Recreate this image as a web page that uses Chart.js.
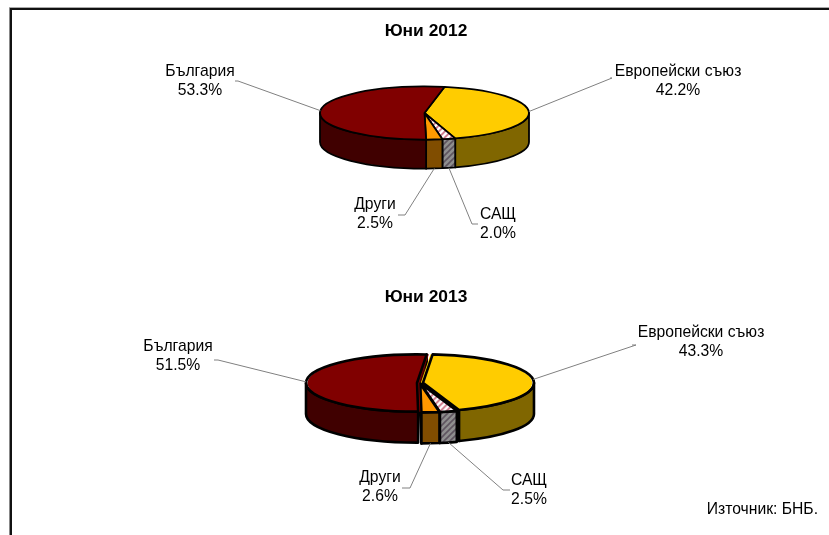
<!DOCTYPE html>
<html><head><meta charset="utf-8">
<script src="https://cdn.jsdelivr.net/npm/chart.js@4/dist/chart.umd.min.js"></script>
<style>
html,body{margin:0;padding:0;background:#fff;width:829px;height:535px;overflow:hidden}
canvas{position:absolute;left:0}
#frameTop{position:absolute;left:9px;top:8px;width:820px;height:2px;background:#111;box-shadow:0 -1px 0 #aaa}
#frameLeft{position:absolute;left:10px;top:8px;width:2px;height:527px;background:#111;box-shadow:-1px 0 0 #888}
</style></head><body>
<canvas id="c1" width="829" height="267" style="top:0"></canvas>
<canvas id="c2" width="829" height="268" style="top:267px"></canvas>
<div id="frameTop"></div><div id="frameLeft"></div>
<script>
const categories = ['Европейски съюз','САЩ','Други','България'];
const titles = ['Юни 2012','Юни 2013'];
const values2012 = [42.2,2.0,2.5,53.3];
const values2013 = [43.3,2.5,2.6,51.5];
const sourceNote = 'Източник: БНБ.';

const layout2012 = {top:0,height:267,cx:424.5,cy:113,r:104.5,k:0.254,depth:29,offset:0,rotation:11,line:1.8,
  titleAt:[426,31],
  labelAt:[[678,71],[498,214],[375,204],[200,71]],
  elbow:[[[612,78],[610,78]],[[472,224],[478,224]],[[405,215],[398,215]],[[238,81],[235,81]]]};
const layout2013 = {top:267,height:268,cx:420,cy:383,r:111,k:0.258,depth:31,offset:3,rotation:5,line:2.6,
  titleAt:[426,297],
  labelAt:[[701,332],[529,480],[380,477],[178,346]],
  elbow:[[[636,345],[632,345]],[[503,490],[510,490]],[[410,488],[402,488]],[[218,360],[214,360]]]};

const topColors = ['#FFCC00',null,'#FF9900','#800000'];
const sideColors = ['#806600',null,'#804D00','#400000'];

function hatch(bg,fg,k){
  const t=document.createElement('canvas');t.width=t.height=6;
  const c=t.getContext('2d');c.fillStyle=bg;c.fillRect(0,0,6,6);
  c.strokeStyle=fg;c.lineWidth=1.6;
  c.beginPath();c.moveTo(-1,7);c.lineTo(7,-1);c.moveTo(-4,4);c.lineTo(4,-4);c.moveTo(2,10);c.lineTo(10,2);c.stroke();
  const p=c.createPattern(t,'repeat');
  if(k&&p.setTransform)p.setTransform(new DOMMatrix().scale(1,1/k));
  return p;
}

const pie3d={
  id:'pie3d',
  beforeDatasetsDraw(chart,args,o){
    const ctx=chart.ctx,L=o.layout,arcs=chart.getDatasetMeta(0).data;
    const geo=arcs.map(a=>{
      const p=a.getProps(['x','y','startAngle','endAngle','outerRadius'],true);
      const mid=(p.startAngle+p.endAngle)/2;
      return {s:p.startAngle,e:p.endAngle,mid,r:p.outerRadius,
        x:p.x+Math.cos(mid)*L.offset,y:p.y+Math.sin(mid)*L.offset*L.k};
    });
    ctx.save();ctx.lineWidth=L.line;ctx.strokeStyle='#000';ctx.lineJoin='round';
    const side=i=>sideColors[i]||o.sideHatch;
    geo.forEach((g,i)=>{
      [[g.s,Math.cos(g.s)<0],[g.e,Math.cos(g.e)>0]].forEach(([a,vis])=>{
        if(!vis)return;
        const px=g.x+Math.cos(a)*g.r,py=g.y+Math.sin(a)*g.r*L.k;
        ctx.beginPath();ctx.moveTo(g.x,g.y);ctx.lineTo(px,py);ctx.lineTo(px,py+L.depth);ctx.lineTo(g.x,g.y+L.depth);ctx.closePath();
        ctx.fillStyle=side(i);ctx.fill();ctx.stroke();
      });
    });
    geo.forEach((g,i)=>{
      [-2*Math.PI,0,2*Math.PI].forEach(m=>{
        const a=Math.max(g.s,m),b=Math.min(g.e,m+Math.PI);
        if(b<=a)return;
        ctx.beginPath();ctx.ellipse(g.x,g.y,g.r,g.r*L.k,0,a,b);
        ctx.ellipse(g.x,g.y+L.depth,g.r,g.r*L.k,0,b,a,true);ctx.closePath();
        ctx.fillStyle=side(i);ctx.fill();ctx.stroke();
      });
    });
    arcs.forEach((a,i)=>{
      ctx.save();
      const p=a.getProps(['x','y'],true);
      ctx.translate(p.x,p.y);ctx.scale(1,L.k);ctx.translate(-p.x,-p.y);
      a.draw(ctx);
      ctx.restore();
      const g=geo[i];
      ctx.beginPath();ctx.moveTo(g.x,g.y);ctx.ellipse(g.x,g.y,g.r,g.r*L.k,0,g.s,g.e);ctx.closePath();ctx.stroke();
    });
    ctx.restore();
    ctx.save();
    ctx.strokeStyle='#808080';ctx.lineWidth=1;
    geo.forEach((g,i)=>{
      const sn=Math.sin(g.mid);
      const px=g.x+Math.cos(g.mid)*g.r,py=g.y+sn*g.r*L.k+(sn>0.5?L.depth:0);
      const [e1,e2]=L.elbow[i];
      ctx.beginPath();ctx.moveTo(px,py);ctx.lineTo(e1[0],e1[1]-L.top);ctx.lineTo(e2[0],e2[1]-L.top);ctx.stroke();
    });
    ctx.fillStyle='#000';ctx.textAlign='center';ctx.textBaseline='middle';
    ctx.font='15.7px "Liberation Sans"';
    const vals=chart.data.datasets[0].data;
    chart.data.labels.forEach((t,i)=>{
      const [x,y]=L.labelAt[i];
      ctx.fillText(t,x,y-L.top+0.5);
      ctx.fillText(vals[i].toFixed(1)+'%',x,y-L.top+20);
    });
    ctx.font='bold 17.4px "Liberation Sans"';
    ctx.fillText(o.title,L.titleAt[0],L.titleAt[1]-L.top+0.5);
    if(o.note){ctx.font='15.7px "Liberation Sans"';ctx.textAlign='right';ctx.fillText(o.note,818,509.5-L.top);}
    ctx.restore();
    return false;
  }
};

function makePie(id,values,L,title,note){
  const fills=topColors.map(c=>c||hatch('#fff','#C8687E',L.k));
  new Chart(document.getElementById(id),{
    type:'pie',
    data:{labels:categories,datasets:[{data:values,backgroundColor:fills,borderWidth:0,offset:L.offset}]},
    options:{responsive:false,animation:false,devicePixelRatio:1,radius:L.r,rotation:L.rotation,
      layout:{padding:{left:Math.max(0,2*L.cx-829),right:Math.max(0,829-2*L.cx),top:0,bottom:L.height-2*(L.cy-L.top)}},
      events:[],
      plugins:{legend:{display:false},tooltip:{enabled:false},
        pie3d:{layout:L,title,note,sideHatch:hatch('#8f8f8f','#5f5560')}}},
    plugins:[pie3d]
  });
}
makePie('c1',values2012,layout2012,titles[0],null);
makePie('c2',values2013,layout2013,titles[1],sourceNote);
</script>
</body></html>
